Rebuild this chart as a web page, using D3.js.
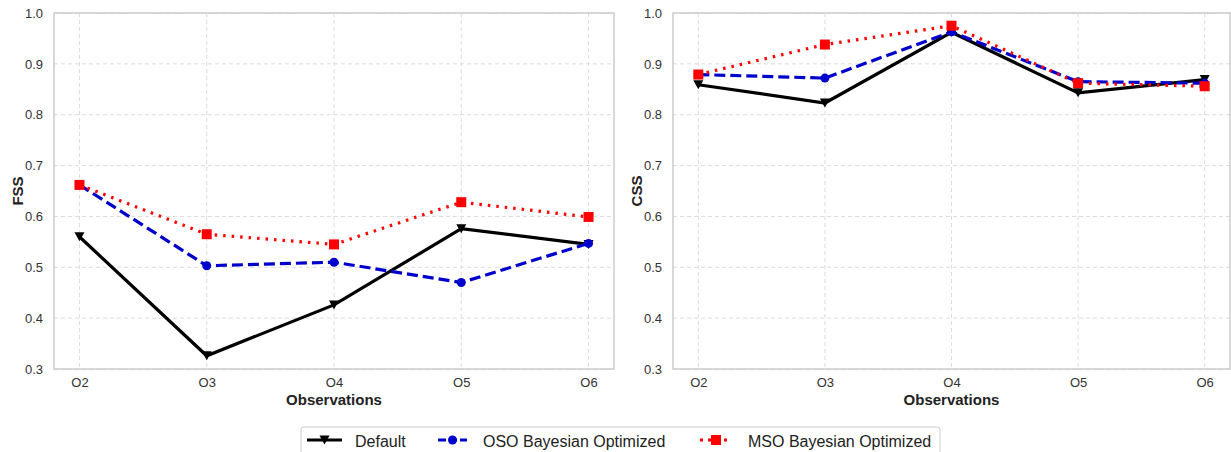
<!DOCTYPE html>
<html>
<head>
<meta charset="utf-8">
<script src="https://cdn.jsdelivr.net/npm/d3@7"></script>
<style>
  body { margin: 0; background: #fff; }
  svg { font-family: "Liberation Sans", Arial, sans-serif; }
</style>
</head>
<body>
<div id="chart"></div>
<script>
// categories and series
const observations = ["O2", "O3", "O4", "O5", "O6"];
const yTicks = [0.3, 0.4, 0.5, 0.6, 0.7, 0.8, 0.9, 1.0];

const fssDefault = [0.560, 0.326, 0.426, 0.576, 0.545];
const fssOSO     = [0.662, 0.503, 0.510, 0.470, 0.547];
const fssMSO     = [0.662, 0.565, 0.545, 0.628, 0.599];

const cssDefault = [0.859, 0.823, 0.962, 0.843, 0.869];
const cssOSO     = [0.879, 0.872, 0.963, 0.865, 0.862];
const cssMSO     = [0.879, 0.938, 0.975, 0.862, 0.856];

const seriesNames = ["Default", "OSO Bayesian Optimized", "MSO Bayesian Optimized"];

const width = 1231, height = 452;

// line styles for each series
const styles = [
  { color: "#000000", dash: null, marker: "tri" },
  { color: "#0000cc", dash: "11,5", marker: "circle" },
  { color: "#ff0000", dash: "2.5,6", marker: "square" }
];

const svg = d3.select("#chart")
  .append("svg")
  .attr("width", width)
  .attr("height", height);

function drawMarker(g, type, x, y, color) {
  if (type === "tri") {
    g.append("path")
      .attr("d", `M${x - 5},${y - 4.5}L${x + 5},${y - 4.5}L${x},${y + 4.5}Z`)
      .attr("fill", color);
  } else if (type === "circle") {
    g.append("circle").attr("cx", x).attr("cy", y).attr("r", 4.5).attr("fill", color);
  } else {
    g.append("rect").attr("x", x - 5).attr("y", y - 5).attr("width", 10).attr("height", 10).attr("fill", color);
  }
}

function panel(left, right, yLabel, data) {
  const top = 13, bottom = 369;
  // matplotlib style margins: 5% of the data span on each side
  const span = right - left;
  const pad = span * 0.05 / 1.1;
  const xp = d3.scalePoint().domain(observations).range([left + pad, right - pad]);
  const y = d3.scaleLinear().domain([0.3, 1.0]).range([bottom, top]);

  const g = svg.append("g");

  // grid
  g.append("g").selectAll("line")
    .data(yTicks)
    .enter().append("line")
    .attr("x1", left).attr("x2", right)
    .attr("y1", d => y(d)).attr("y2", d => y(d))
    .attr("stroke", "#dcdcdc").attr("stroke-width", 1).attr("stroke-dasharray", "4,3");
  g.append("g").selectAll("line")
    .data(observations)
    .enter().append("line")
    .attr("x1", d => xp(d)).attr("x2", d => xp(d))
    .attr("y1", top).attr("y2", bottom)
    .attr("stroke", "#dcdcdc").attr("stroke-width", 1).attr("stroke-dasharray", "4,3");

  // frame
  g.append("rect")
    .attr("x", left).attr("y", top)
    .attr("width", right - left).attr("height", bottom - top)
    .attr("fill", "none").attr("stroke", "#cccccc").attr("stroke-width", 1.5);

  // axes
  const yAxis = g.append("g")
    .attr("transform", `translate(${left},0)`)
    .call(d3.axisLeft(y).tickValues(yTicks).tickFormat(d3.format(".1f")).tickSize(0).tickPadding(11));
  yAxis.select(".domain").remove();
  yAxis.selectAll("text").attr("font-size", 13).attr("fill", "#333");

  const xAxis = g.append("g")
    .attr("transform", `translate(0,${bottom})`)
    .call(d3.axisBottom(xp).tickSize(0).tickPadding(9));
  xAxis.select(".domain").remove();
  xAxis.selectAll("text").attr("font-size", 13).attr("fill", "#333");

  g.append("text")
    .attr("x", (left + right) / 2).attr("y", 405)
    .attr("text-anchor", "middle")
    .attr("font-size", 15).attr("font-weight", "bold").attr("fill", "#222")
    .text("Observations");

  g.append("text")
    .attr("transform", `translate(${left - 31},${(top + bottom) / 2}) rotate(-90)`)
    .attr("text-anchor", "middle")
    .attr("font-size", 15).attr("font-weight", "bold").attr("fill", "#222")
    .text(yLabel);

  const line = d3.line().x((d, i) => xp(observations[i])).y(d => y(d));

  data.forEach((vals, k) => {
    const s = styles[k];
    g.append("path")
      .datum(vals)
      .attr("d", line)
      .attr("fill", "none")
      .attr("stroke", s.color)
      .attr("stroke-width", 3.2)
      .attr("stroke-dasharray", s.dash);
    vals.forEach((v, i) => drawMarker(g, s.marker, xp(observations[i]), y(v), s.color));
  });
}

panel(54, 614, "FSS", [fssDefault, fssOSO, fssMSO]);
panel(673, 1230, "CSS", [cssDefault, cssOSO, cssMSO]);

// legend
const lg = svg.append("g");
lg.append("rect")
  .attr("x", 301).attr("y", 427).attr("width", 639).attr("height", 34)
  .attr("rx", 3)
  .attr("fill", "#fff").attr("stroke", "#cccccc").attr("stroke-width", 1);

const sampleX = [307, 438, 700];
const sampleW = [35, 29, 32];
const textX = [355, 483, 748];
seriesNames.forEach((name, k) => {
  const s = styles[k];
  const ly = 440;
  lg.append("line")
    .attr("x1", sampleX[k]).attr("x2", sampleX[k] + sampleW[k])
    .attr("y1", ly).attr("y2", ly)
    .attr("stroke", s.color).attr("stroke-width", 3)
    .attr("stroke-dasharray", k === 1 ? "8,3" : (k === 2 ? "3,5" : null));
  drawMarker(lg, s.marker, sampleX[k] + sampleW[k] / 2, ly, s.color);
  lg.append("text")
    .attr("x", textX[k]).attr("y", ly + 6.5)
    .attr("font-size", 16).attr("fill", "#222")
    .text(name);
});
</script>
</body>
</html>
